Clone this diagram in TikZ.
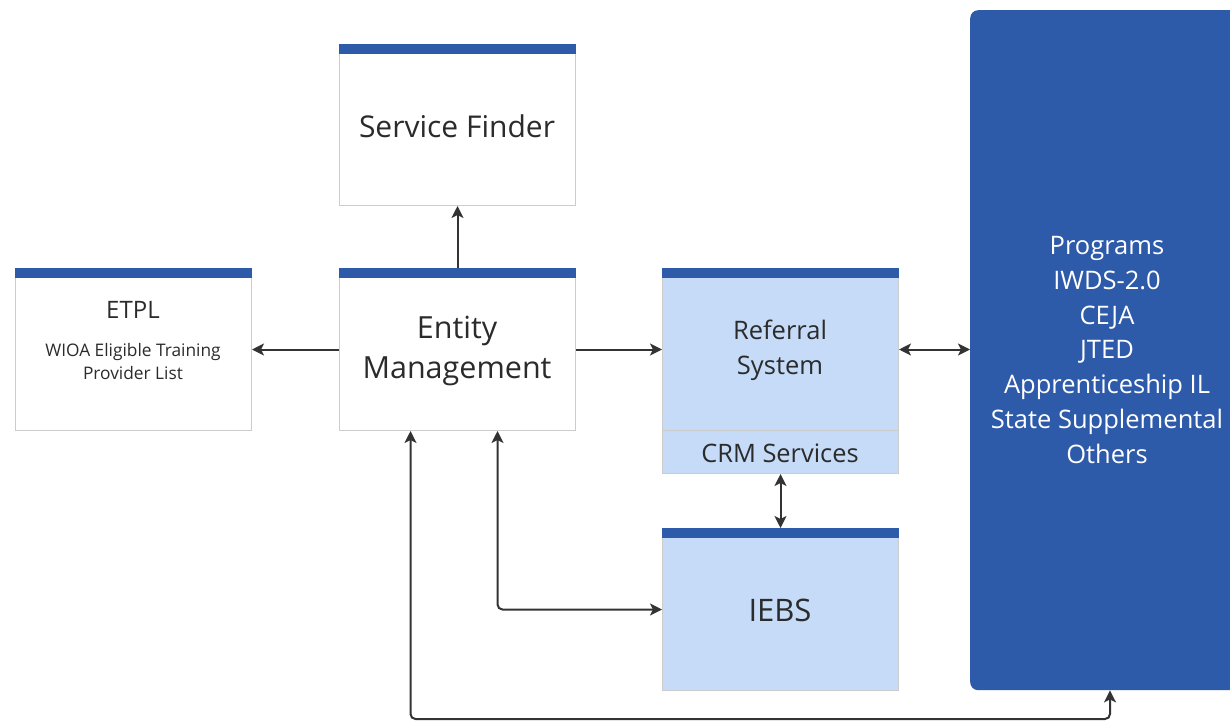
\documentclass[tikz,border=0pt]{standalone}
\usepackage{fontspec}
\setmainfont{Open Sans}
\usetikzlibrary{arrows.meta,calc}
\definecolor{barblue}{HTML}{2E5AAA}
\definecolor{lightblue}{HTML}{C6DBF8}
\definecolor{edgegray}{HTML}{CCCCCC}
\definecolor{txt}{HTML}{2B2B2B}
\definecolor{arr}{HTML}{333333}
\begin{document}
\begin{tikzpicture}[x=1pt,y=-1pt,
  box/.style={draw=edgegray, line width=1pt, anchor=north west, inner sep=0pt, minimum width=236pt},
  wbox/.style={box, fill=white},
  bbox/.style={box, fill=lightblue},
  bar/.style={fill=barblue},
  lbl/.style={text=txt, align=center, inner sep=0pt},
  tip/.tip={Stealth[length=12pt,width=12pt,inset=3pt]},
  conn/.style={draw=arr, line width=2pt, rounded corners=5pt, -tip},
  conn2/.style={conn, tip-tip}
]
\useasboundingbox (0,0) rectangle (1230,720);
\fill[white] (0,0) rectangle (1230,720);

% boxes
\node[wbox, minimum height=162pt] (etpl) at (15,268) {};
\node[wbox, minimum height=161pt] (sf) at (339,44) {};
\node[wbox, minimum height=162pt] (em) at (339,268) {};
\node[bbox, minimum height=162pt] (ref) at (662,268) {};
\node[bbox, minimum height=43pt] (crm) at (662,430) {};
\node[bbox, minimum height=162pt] (iebs) at (662,528) {};
\node[fill=barblue, rounded corners=8pt, anchor=north west, inner sep=0pt, minimum width=280pt, minimum height=680pt] (prog) at (970,10) {};

% bars
\foreach \b in {etpl,sf,em,ref,iebs}{
  \fill[bar] (\b.north west) rectangle ($(\b.north east)+(0,10)$);
}

% labels
\node[lbl, font=\fontsize{24}{28}\selectfont] (tetpl) at (133,310) {ETPL};
\node[lbl, font=\fontsize{17.3}{23}\selectfont] (twioa) at (133,362) {WIOA Eligible Training\\Provider List};
\node[lbl, font=\fontsize{30}{34}\selectfont] (tsf) at (457,126) {Service Finder};
\node[lbl, font=\fontsize{30.5}{40}\selectfont] (tem) at (457,351) {Entity\\Management};
\node[lbl, font=\fontsize{25.5}{35}\selectfont] (tref) at (780,350) {Referral\\System};
\node[lbl, font=\fontsize{25.4}{28}\selectfont] (tcrm) at (780,453) {CRM Services};
\node[lbl, font=\fontsize{31}{34}\selectfont] (tiebs) at (780,610) {IEBS};
\node[lbl, text=white, font=\fontsize{25.5}{34.7}\selectfont] (tprog) at (1107,350) {Programs\\IWDS-2.0\\CEJA\\JTED\\Apprenticeship IL\\State Supplemental\\Others};

% connectors
\draw[conn] (em.west) -- (etpl.east);
\draw[conn] (em.north) -- (sf.south);
\draw[conn] (em.east) -- (ref.west);
\draw[conn2] (ref.east) -- (ref.east -| prog.west);
\draw[conn2] (crm.south) -- (iebs.north);
\draw[conn2] ($(em.south)+(40,0)$) |- (iebs.west);
\coordinate (pin) at ($(prog.south west)+(140,0)$);
\draw[conn2] ($(em.south)+(-47,0)$) -- ++(0,288) -| (pin);
\end{tikzpicture}
\end{document}
